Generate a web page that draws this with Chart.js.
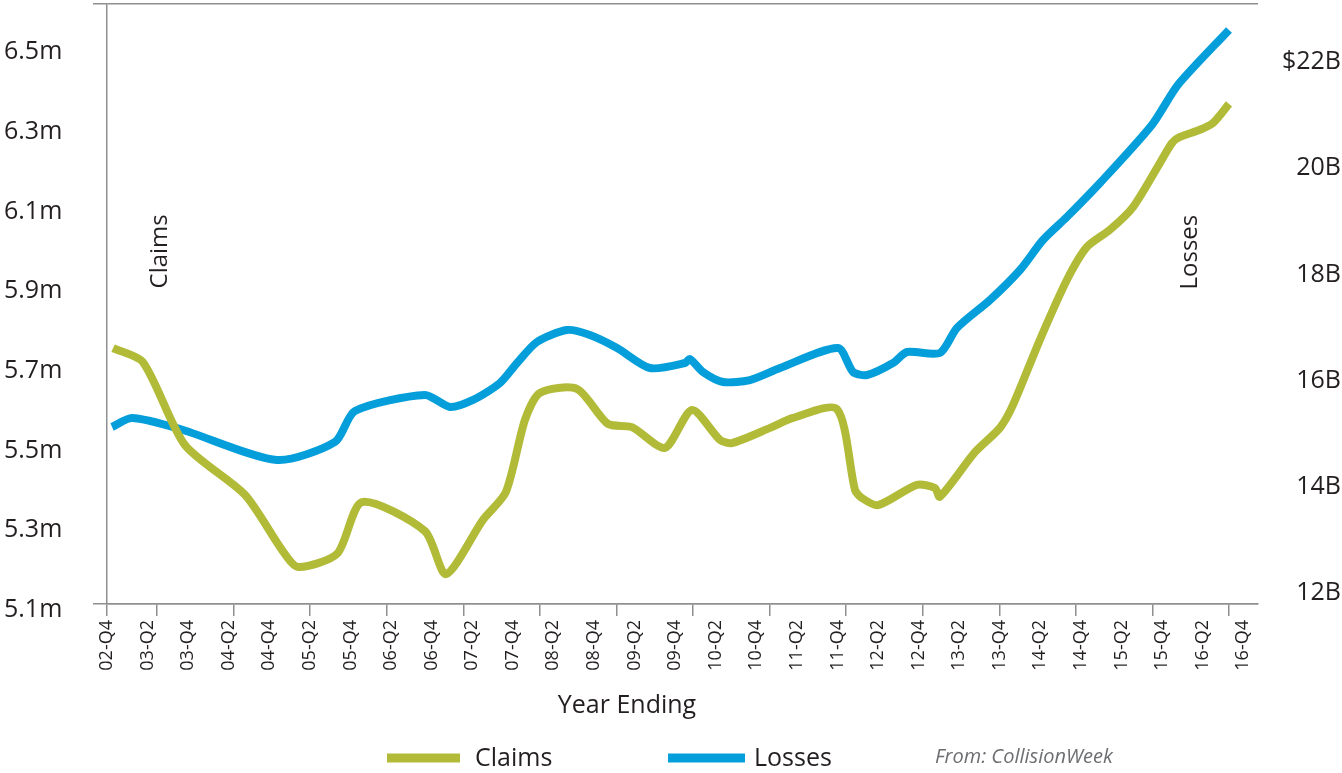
<!DOCTYPE html>
<html>
<head>
<meta charset="utf-8">
<title>Claims and Losses</title>
<script src="https://cdn.jsdelivr.net/npm/chart.js@4.4.1/dist/chart.umd.min.js"></script>
<style>
  html, body { margin: 0; padding: 0; background: #ffffff; }
  #wrap { width: 1342px; height: 773px; position: relative; }
</style>
</head>
<body>
<div id="wrap"><canvas id="chart"></canvas></div>
<script>
// Quarter labels shown on the x axis (one every two quarters, 02-Q4 = quarter 0)
const quarterLabels = [
  '02-Q4', '03-Q2', '03-Q4', '04-Q2', '04-Q4', '05-Q2', '05-Q4', '06-Q2', '06-Q4',
  '07-Q2', '07-Q4', '08-Q2', '08-Q4', '09-Q2', '09-Q4', '10-Q2', '10-Q4', '11-Q2',
  '11-Q4', '12-Q2', '12-Q4', '13-Q2', '13-Q4', '14-Q2', '14-Q4', '15-Q2', '15-Q4',
  '16-Q2', '16-Q4'
];

// Claims (millions), rolling year ending; position in quarters since 02-Q4
const claimsQuarter = [
  0.30, 1.77, 3.84, 6.80, 8.62, 9.41, 11.34, 12.57, 15.67, 16.71,
  18.53, 19.66, 20.60, 21.34, 23.16, 24.69, 25.87, 27.50, 28.83, 30.21,
  30.80, 32.68, 33.81, 35.98, 36.87, 37.21, 38.00, 39.92, 40.81, 41.05,
  42.78, 44.01, 44.65, 45.98, 47.31, 48.30, 49.43, 50.57, 51.90, 52.49,
  52.88, 53.87, 54.51, 55.30
];
const claimsMillions = [
  5.757, 5.722, 5.514, 5.389, 5.251, 5.208, 5.241, 5.371, 5.298, 5.190,
  5.326, 5.396, 5.577, 5.645, 5.655, 5.567, 5.559, 5.507, 5.602, 5.527,
  5.519, 5.557, 5.582, 5.604, 5.401, 5.381, 5.363, 5.414, 5.406, 5.384,
  5.496, 5.557, 5.614, 5.778, 5.928, 6.011, 6.054, 6.111, 6.222, 6.272,
  6.287, 6.305, 6.322, 6.370
];

// Losses (billions of dollars), rolling year ending
const lossesQuarter = [
  0.25, 1.23, 3.60, 8.38, 11.24, 12.22, 15.67, 16.90, 18.04, 19.37,
  20.21, 21.19, 22.67, 23.80, 25.14, 26.76, 28.49, 28.73, 29.37, 30.36,
  31.69, 33.17, 36.03, 36.77, 37.46, 38.74, 39.43, 41.05, 41.89, 43.52,
  45.00, 46.13, 47.31, 48.94, 51.50, 52.78, 55.30
];
const lossesBillions = [
  15.126, 15.296, 15.089, 14.505, 14.844, 15.427, 15.729, 15.503, 15.635, 15.955,
  16.331, 16.727, 16.953, 16.859, 16.614, 16.237, 16.331, 16.407, 16.162, 15.974,
  16.011, 16.237, 16.614, 16.162, 16.105, 16.331, 16.539, 16.520, 16.991, 17.518,
  18.083, 18.648, 19.081, 19.721, 20.814, 21.567, 22.603
];

// Axis tick values and their texts
const leftTickValues = [5.1, 5.3, 5.5, 5.7, 5.9, 6.1, 6.3, 6.5];
const leftTickLabels = ['5.1m', '5.3m', '5.5m', '5.7m', '5.9m', '6.1m', '6.3m', '6.5m'];
const rightTickValues = [12, 14, 16, 18, 20, 22];
const rightTickLabels = ['12B', '14B', '16B', '18B', '20B', '$22B'];

const OLIVE = '#b2bb38';
const BLUE = '#049fda';
const AXIS_GRAY = '#8f8f8f';
const TEXT = '#231f20';
const SOURCE_GRAY = '#6d6e71';
const FONT = "'Open Sans', 'Noto Sans', sans-serif";
const CLEAR = 'rgba(0,0,0,0)';

// Short tick marks under the x axis
const xMarkStart = 2.464;
const xMarkStep = 3.774;
const xMarkCount = 15;

function toPoints(xs, ys) {
  return xs.map((x, i) => ({ x: x, y: ys[i] }));
}

// Keep the plot frame fixed: no extra room reserved for end labels
function noEdgePadding(scale) {
  scale.paddingTop = 0;
  scale.paddingBottom = 0;
  scale.paddingLeft = 0;
  scale.paddingRight = 0;
}

// Vertical series names, legend, axis title and source line
const decorations = {
  id: 'decorations',
  afterDraw(chart) {
    const { ctx, scales } = chart;
    ctx.save();
    ctx.fillStyle = TEXT;
    ctx.textBaseline = 'middle';

    const vertical = (text, x, y) => {
      ctx.save();
      ctx.translate(x, y);
      ctx.rotate(-Math.PI / 2);
      ctx.textAlign = 'center';
      ctx.font = '24px ' + FONT;
      ctx.fillText(text, 0, 0);
      ctx.restore();
    };
    vertical('Claims', scales.x.getPixelForValue(2.61), scales.y.getPixelForValue(6.0));
    vertical('Losses', scales.x.getPixelForValue(53.38), scales.y2.getPixelForValue(18.42));

    // x axis title
    ctx.font = '25px ' + FONT;
    ctx.textAlign = 'center';
    ctx.fillText('Year Ending', 627, 706);

    // legend
    const legendSlots = [
      { barX: 387, barW: 73, textX: 475 },
      { barX: 668, barW: 77, textX: 754 }
    ];
    const legendY = 758;
    chart.data.datasets.forEach((ds, i) => {
      const slot = legendSlots[i];
      ctx.fillStyle = ds.borderColor;
      ctx.fillRect(slot.barX, legendY - 4.5, slot.barW, 9);
      ctx.fillStyle = TEXT;
      ctx.textAlign = 'left';
      ctx.font = '25px ' + FONT;
      ctx.fillText(ds.label, slot.textX, legendY + 1);
    });

    // source
    ctx.fillStyle = SOURCE_GRAY;
    ctx.font = 'italic 20px ' + FONT;
    ctx.textAlign = 'left';
    ctx.fillText('From: CollisionWeek', 935, 757);
    ctx.restore();
  }
};

new Chart(document.getElementById('chart'), {
  type: 'line',
  data: {
    datasets: [
      {
        label: 'Claims',
        data: toPoints(claimsQuarter, claimsMillions),
        yAxisID: 'y',
        borderColor: OLIVE,
        backgroundColor: OLIVE,
        borderWidth: 8,
        pointRadius: 0,
        tension: 0.25,
        fill: false
      },
      {
        label: 'Losses',
        data: toPoints(lossesQuarter, lossesBillions),
        yAxisID: 'y2',
        borderColor: BLUE,
        backgroundColor: BLUE,
        borderWidth: 8,
        pointRadius: 0,
        tension: 0.25,
        fill: false
      }
    ]
  },
  options: {
    responsive: true,
    maintainAspectRatio: false,
    animation: false,
    layout: { padding: { left: 4, right: 1, top: 4, bottom: 89 } },
    plugins: {
      legend: { display: false },
      tooltip: { enabled: false }
    },
    scales: {
      x: {
        type: 'linear',
        position: 'bottom',
        min: 0,
        max: 56.73,
        afterBuildTicks(scale) {
          const ticks = quarterLabels.map((name, i) => ({ value: i * 2, name: name, mark: i === 0 }));
          for (let k = 0; k < xMarkCount; k++) {
            ticks.push({ value: xMarkStart + k * xMarkStep, name: '', mark: true });
          }
          ticks.sort((a, b) => a.value - b.value);
          scale.ticks = ticks;
        },
        afterFit(scale) { scale.height = 80; noEdgePadding(scale); },
        ticks: {
          autoSkip: false,
          minRotation: 90,
          maxRotation: 90,
          padding: 4,
          color: TEXT,
          font: { family: FONT, size: 18 },
          callback: (value, index, ticks) => ticks[index].name || ''
        },
        grid: {
          drawOnChartArea: false,
          drawTicks: true,
          tickLength: 12,
          lineWidth: 1.5,
          color: (c) => (c.tick && c.tick.mark ? AXIS_GRAY : CLEAR)
        },
        border: { display: true, color: AXIS_GRAY, width: 1.5 }
      },
      y: {
        type: 'linear',
        position: 'left',
        min: 5.11506,
        max: 6.6207,
        afterBuildTicks(scale) {
          const ticks = leftTickValues.map((v, i) => ({ value: v, name: leftTickLabels[i] }));
          ticks.splice(1, 0, { value: scale.min, name: '', frame: true });
          ticks.push({ value: scale.max, name: '', frame: true });
          scale.ticks = ticks;
        },
        afterFit(scale) { scale.width = 103; noEdgePadding(scale); },
        ticks: {
          autoSkip: false,
          crossAlign: 'far',
          color: TEXT,
          font: { family: FONT, size: 25 },
          callback: (value, index, ticks) => ticks[index].name || ''
        },
        grid: {
          drawOnChartArea: true,
          drawTicks: true,
          tickLength: 14,
          lineWidth: 1.5,
          color: (c) => (c.tick && c.tick.frame ? AXIS_GRAY : CLEAR)
        },
        border: { display: true, color: AXIS_GRAY, width: 1.5 }
      },
      y2: {
        type: 'linear',
        position: 'right',
        min: 11.7928,
        max: 23.0923,
        afterBuildTicks(scale) {
          scale.ticks = rightTickValues.map((v, i) => ({ value: v, name: rightTickLabels[i] }));
        },
        afterFit(scale) { scale.width = 83; noEdgePadding(scale); },
        ticks: {
          autoSkip: false,
          crossAlign: 'far',
          color: TEXT,
          font: { family: FONT, size: 25 },
          callback: (value, index, ticks) => ticks[index].name || ''
        },
        grid: { display: false },
        border: { display: false }
      }
    }
  },
  plugins: [decorations]
});
</script>
</body>
</html>
